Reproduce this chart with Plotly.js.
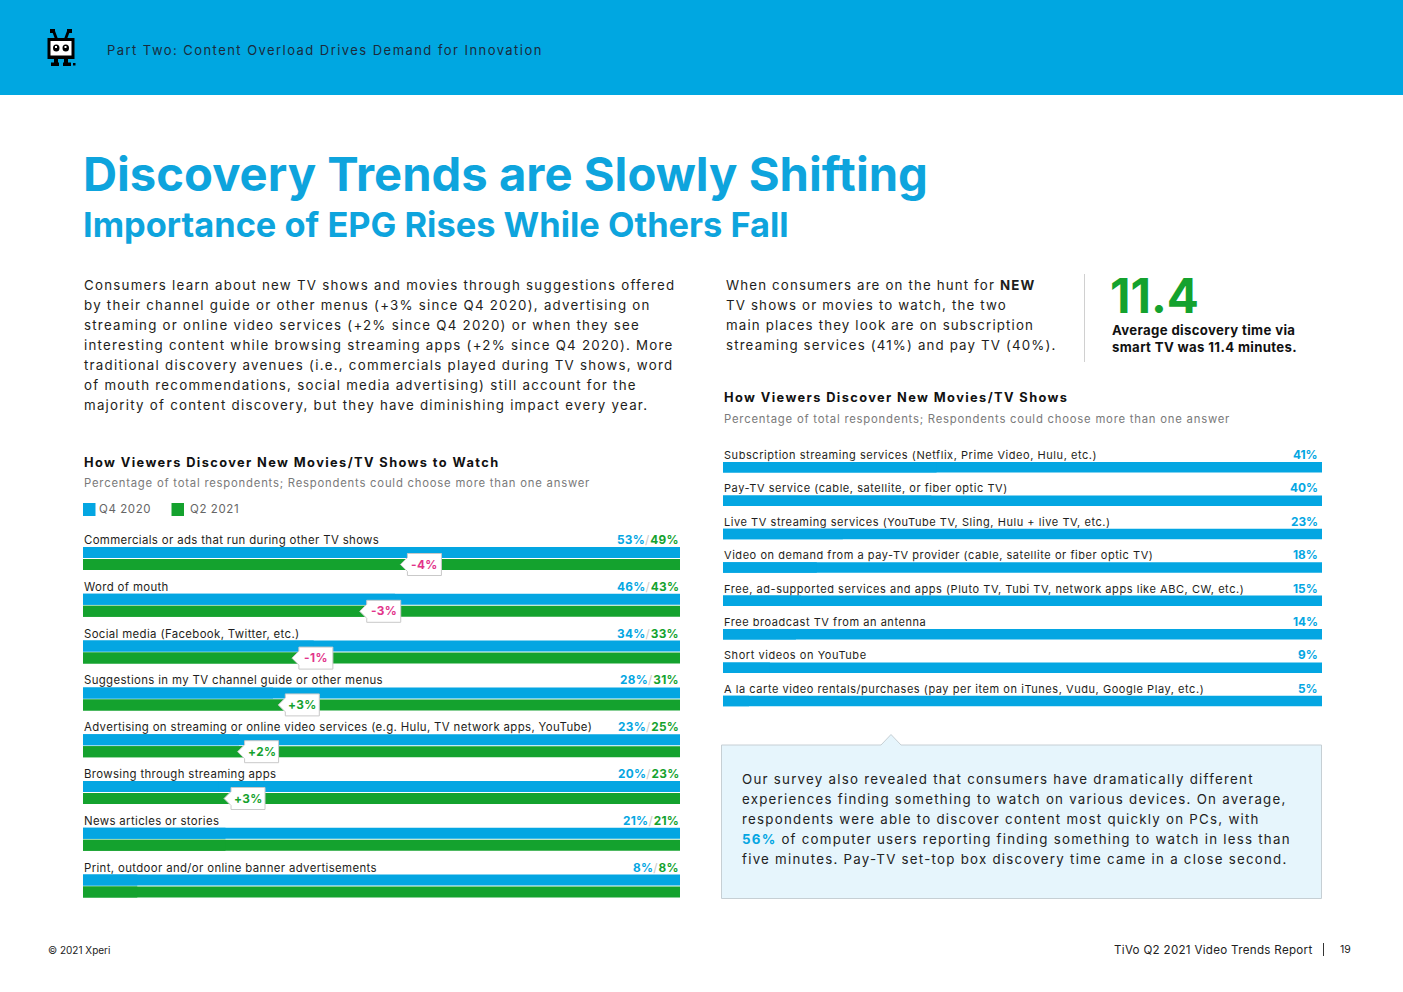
<!DOCTYPE html>
<html><head><meta charset="utf-8">
<script src="https://cdn.plot.ly/plotly-3.0.1.min.js"></script>
<style>html,body{margin:0;padding:0;background:#fff;overflow:hidden}#chart{width:1403px;height:992px}</style>
</head><body><div id="chart"></div>
<script>
// ---------- data ----------
const leftCategories = [
  "Commercials or ads that run during other TV shows",
  "Word of mouth",
  "Social media (Facebook, Twitter, etc.)",
  "Suggestions in my TV channel guide or other menus",
  "Advertising on streaming or online video services (e.g. Hulu, TV network apps, YouTube)",
  "Browsing through streaming apps",
  "News articles or stories",
  "Print, outdoor and/or online banner advertisements"
];
const seriesNames = ["Q4 2020", "Q2 2021"];
const q4_2020 = [53, 46, 34, 28, 23, 20, 21, 8];
const q2_2021 = [49, 43, 33, 31, 25, 23, 21, 8];

const rightCategories = [
  "Subscription streaming services (Netflix, Prime Video, Hulu, etc.)",
  "Pay-TV service (cable, satellite, or fiber optic TV)",
  "Live TV streaming services (YouTube TV, Sling, Hulu + live TV, etc.)",
  "Video on demand from a pay-TV provider (cable, satellite or fiber optic TV)",
  "Free, ad-supported services and apps (Pluto TV, Tubi TV, network apps like ABC, CW, etc.)",
  "Free broadcast TV from an antenna",
  "Short videos on YouTube",
  "A la carte video rentals/purchases (pay per item on iTunes, Vudu, Google Play, etc.)"
];
const rightValues = [41, 40, 23, 18, 15, 14, 9, 5];

// ---------- style ----------
const W = 1403, H = 992;
const FONT = "Inter, 'Open Sans', sans-serif";
const BLUE = "#04a6e2", GREEN = "#14a22e", PINK = "#e2338a";
const HEADER = "#00a7e1", TITLE = "#0ea4dd", DARK = "#1e1e20", GRAY = "#7a7a7a";
const BODY_LS = 1.25;

const px = x => x / W, py = y => 1 - y / H;
function sp(t, ls) { return `<span style="letter-spacing:${ls}px">${t}</span>`; }
function T(x, y, text, o = {}) {
  const font = Object.assign({family: FONT, size: 13, color: DARK}, o.font || {});
  return Object.assign({xref: 'paper', yref: 'paper', x: px(x), y: py(y), text: text,
    showarrow: false, xanchor: 'left', yanchor: 'middle', align: 'left'}, o, {font: font});
}
function rectP(x0, y0, x1, y1, fill, line) {
  return {type: 'rect', xref: 'paper', yref: 'paper', x0: px(x0), x1: px(x1), y0: py(y0), y1: py(y1),
    fillcolor: fill, line: line || {width: 0}, layer: 'below'};
}
function pathP(points, fill, line, layer) {
  const d = points.map((p, i) => (i ? 'L' : 'M') + px(p[0]) + ',' + py(p[1])).join(' ') + ' Z';
  return {type: 'path', xref: 'paper', yref: 'paper', path: d, fillcolor: fill, line: line || {width: 0}, layer: layer || 'below'};
}

// ---------- left chart geometry ----------
const L = {top: 531, pitch: 46.8, x0: 83, x1: 680, max: 88, labelRel: 9, blueRel: 16, greenRel: 28, barH: 11};
const nL = leftCategories.length;
const Lbottom = L.top + L.pitch * nL;
const lBlueOff = (L.blueRel - L.pitch / 2) / L.pitch;
const lGreenOff = (L.greenRel - L.pitch / 2) / L.pitch;
const lW = L.barH / L.pitch;
const lIdx = leftCategories.map((_, i) => i);

// ---------- right chart geometry ----------
const R = {top: 447, pitch: 33.4, x0: 723, x1: 1322, max: 115, labelRel: 8, barRel: 15, barH: 10.5};
const nR = rightCategories.length;
const Rbottom = R.top + R.pitch * nR;
const rOff = (R.barRel - R.pitch / 2) / R.pitch;
const rW = R.barH / R.pitch;
const rIdx = rightCategories.map((_, i) => i);

const barBase = {type: 'bar', orientation: 'h', hoverinfo: 'skip', showlegend: false, marker: {line: {width: 0}}};
const traces = [
  // full-width tracks (left)
  Object.assign({}, barBase, {x: lIdx.map(() => L.max), y: lIdx, offset: lBlueOff, width: lW, marker: {color: BLUE}, xaxis: 'x', yaxis: 'y'}),
  Object.assign({}, barBase, {x: lIdx.map(() => L.max), y: lIdx, offset: lGreenOff, width: lW, marker: {color: GREEN}, xaxis: 'x', yaxis: 'y'}),
  // values (left)
  Object.assign({}, barBase, {name: seriesNames[0], x: q4_2020, y: lIdx, offset: lBlueOff, width: lW, marker: {color: BLUE}, xaxis: 'x', yaxis: 'y'}),
  Object.assign({}, barBase, {name: seriesNames[1], x: q2_2021, y: lIdx, offset: lGreenOff, width: lW, marker: {color: GREEN}, xaxis: 'x', yaxis: 'y'}),
  // right
  Object.assign({}, barBase, {x: rIdx.map(() => R.max), y: rIdx, offset: rOff, width: rW, marker: {color: BLUE}, xaxis: 'x2', yaxis: 'y2'}),
  Object.assign({}, barBase, {x: rightValues, y: rIdx, offset: rOff, width: rW, marker: {color: BLUE}, xaxis: 'x2', yaxis: 'y2'})
];

const shapes = [];
const ann = [];

// header band + logo
shapes.push(rectP(0, 0, W, 95, HEADER));
const K = '#000000', Wt = '#ffffff';
shapes.push(pathP([[52,31],[55,31],[58,39],[55,39]], K));
shapes.push(pathP([[70,31],[67,31],[64,39],[67,39]], K));
shapes.push(rectP(50, 29, 55, 33, K)); shapes.push(rectP(67, 29, 72, 33, K));
shapes.push({type:'rect', xref:'paper', yref:'paper', x0:px(47.5), x1:px(74.5), y0:py(38), y1:py(59), fillcolor:K, line:{width:0}, layer:'below'});
shapes.push(rectP(50.5, 41, 71.5, 55.5, Wt));
shapes.push({type:'circle', xref:'paper', yref:'paper', x0:px(53), x1:px(59.5), y0:py(44.5), y1:py(51.5), fillcolor:K, line:{width:0}, layer:'below'});
shapes.push({type:'circle', xref:'paper', yref:'paper', x0:px(62.5), x1:px(69), y0:py(44.5), y1:py(51.5), fillcolor:K, line:{width:0}, layer:'below'});
shapes.push(rectP(55, 46, 57, 48, Wt)); shapes.push(rectP(64.5, 46, 66.5, 48, Wt));
shapes.push(rectP(54, 59, 58, 64, K)); shapes.push(rectP(64, 59, 68, 64, K));
shapes.push(rectP(51, 62.5, 59, 66, K)); shapes.push(rectP(63, 62.5, 71, 66, K));
shapes.push(rectP(73, 63, 75.5, 65.5, K));
ann.push(T(105, 50, sp("Part Two: Content Overload Drives Demand for Innovation", 1.45), {font: {size: 13, color: '#1b2b3c'}}));

// titles
ann.push(T(81, 173, "<b>Discovery Trends are Slowly Shifting</b>", {font: {size: 47.2, color: TITLE}}));
ann.push(T(81, 224, "<b>Importance of EPG Rises While Others Fall</b>", {font: {size: 34.4, color: TITLE}}));

// left paragraph
const leftPara = [
  "Consumers learn about new TV shows and movies through suggestions offered",
  "by their channel guide or other menus (+3% since Q4 2020), advertising on",
  "streaming or online video services (+2% since Q4 2020) or when they see",
  "interesting content while browsing streaming apps (+2% since Q4 2020). More",
  "traditional discovery avenues (i.e., commercials played during TV shows, word",
  "of mouth recommendations, social media advertising) still account for the",
  "majority of content discovery, but they have diminishing impact every year."
];
leftPara.forEach((t, i) => ann.push(T(82, 285 + 20 * i, sp(t, BODY_LS), {font: {size: 13.3}})));

// right paragraph
const rightPara = [
  sp("When consumers are on the hunt for ", 1.15) + "<b>" + sp("NEW", 1.15) + "</b>",
  sp("TV shows or movies to watch, the two", 1.15),
  sp("main places they look are on subscription", 1.15),
  sp("streaming services (41%) and pay TV (40%).", 1.15)
];
rightPara.forEach((t, i) => ann.push(T(724, 285 + 20 * i, t, {font: {size: 13.3}})));
shapes.push({type: 'line', xref: 'paper', yref: 'paper', x0: px(1084.5), x1: px(1084.5), y0: py(274), y1: py(362), line: {color: '#d0d0d0', width: 1}});
ann.push(T(1108, 295, "<b>11.4</b>", {font: {size: 47.5, color: GREEN}}));
ann.push(T(1110, 330, "<b>" + sp("Average discovery time via", 0.35) + "</b>", {font: {size: 13.2, color: '#111'}}));
ann.push(T(1110, 347, "<b>" + sp("smart TV was 11.4 minutes.", 0.35) + "</b>", {font: {size: 13.2, color: '#111'}}));

// left chart headings + legend
ann.push(T(82, 462, "<b>" + sp("How Viewers Discover New Movies/TV Shows to Watch", 1.4) + "</b>", {font: {size: 12.8, color: '#111'}}));
ann.push(T(82, 483, sp("Percentage of total respondents; Respondents could choose more than one answer", 0.78), {font: {size: 11.3, color: GRAY}}));
shapes.push(rectP(83, 503, 95.5, 516, BLUE));
ann.push(T(97, 509, sp(seriesNames[0], 0.6), {font: {size: 11.5, color: '#666'}}));
shapes.push(rectP(171.5, 503, 184, 516, GREEN));
ann.push(T(188, 509, sp(seriesNames[1], 0.6), {font: {size: 11.5, color: '#666'}}));

// left chart labels
leftCategories.forEach((c, i) => {
  const yl = i - 0.5 + L.labelRel / L.pitch;
  ann.push({xref: 'paper', yref: 'y', x: px(82), y: yl, xanchor: 'left', yanchor: 'middle', showarrow: false,
    text: sp(c, 0.36), font: {family: FONT, size: 11.4, color: DARK}});
  ann.push({xref: 'paper', yref: 'y', x: px(681), y: yl, xanchor: 'right', yanchor: 'middle', showarrow: false,
    text: `<b><span style="color:${BLUE};letter-spacing:0.3px">${q4_2020[i]}%</span></b><span style="color:#c8c8c8;letter-spacing:1px">/</span><b><span style="color:${GREEN};letter-spacing:0.3px">${q2_2021[i]}%</span></b>`,
    font: {family: FONT, size: 11.8, color: DARK}});
  const d = q2_2021[i] - q4_2020[i];
  if (d !== 0) {
    const yc = i + lGreenOff + lW / 2;
    shapes.push({type: 'path', xref: 'x', yref: 'y', xsizemode: 'pixel', ysizemode: 'pixel',
      xanchor: q2_2021[i], yanchor: yc,
      path: 'M-15,0 L-8,-7 L-8,-11 L26,-11 L26,11 L-8,11 L-8,7 Z',
      fillcolor: '#ffffff', line: {color: '#c9c9c9', width: 1}, layer: 'above'});
    ann.push({xref: 'x', yref: 'y', x: q2_2021[i], y: yc, xanchor: 'center', yanchor: 'middle', xshift: 9, showarrow: false,
      text: '<b>' + sp((d > 0 ? '+' : '') + d + '%', 0.4) + '</b>', font: {family: FONT, size: 11.8, color: d < 0 ? PINK : GREEN}});
  }
});

// right chart headings + labels
ann.push(T(722, 398, "<b>" + sp("How Viewers Discover New Movies/TV Shows", 1.4) + "</b>", {font: {size: 12.8, color: '#111'}}));
ann.push(T(722, 419, sp("Percentage of total respondents; Respondents could choose more than one answer", 0.78), {font: {size: 11.3, color: GRAY}}));
rightCategories.forEach((c, i) => {
  const yl = i - 0.5 + R.labelRel / R.pitch;
  ann.push({xref: 'paper', yref: 'y2', x: px(722), y: yl, xanchor: 'left', yanchor: 'middle', showarrow: false,
    text: sp(c, 0.55), font: {family: FONT, size: 11, color: DARK}});
  ann.push({xref: 'paper', yref: 'y2', x: px(1320), y: yl, xanchor: 'right', yanchor: 'middle', showarrow: false,
    text: '<b>' + rightValues[i] + '%</b>', font: {family: FONT, size: 11.8, color: BLUE}});
});

// callout box
shapes.push(pathP([[721.5,745],[881,745],[891,734.5],[901,745],[1321.5,745],[1321.5,898.5],[721.5,898.5]], '#e6f5fc', {color: '#c6cfd4', width: 1}));
const boxLines = [
  sp("Our survey also revealed that consumers have dramatically different", BODY_LS),
  sp("experiences finding something to watch on various devices. On average,", BODY_LS),
  sp("respondents were able to discover content most quickly on PCs, with", BODY_LS),
  `<b><span style="color:${BLUE};letter-spacing:${BODY_LS}px">56%</span></b>` + sp(" of computer users reporting finding something to watch in less than", BODY_LS),
  sp("five minutes. Pay-TV set-top box discovery time came in a close second.", BODY_LS)
];
boxLines.forEach((t, i) => ann.push(T(740, 779 + 20 * i, t, {font: {size: 13.3, color: '#222'}})));

// footer
ann.push(T(46, 950, "© 2021 Xperi", {font: {size: 10, color: '#222'}}));
ann.push(T(1315, 950, sp("TiVo Q2 2021 Video Trends Report", 0.3), {xanchor: 'right', font: {size: 11.6, color: '#222'}}));
shapes.push({type: 'line', xref: 'paper', yref: 'paper', x0: px(1323.5), x1: px(1323.5), y0: py(943), y1: py(956), line: {color: '#333', width: 1}});
ann.push(T(1338, 949, "19", {font: {size: 10.5, color: '#222'}}));

const axisOff = {visible: false, showgrid: false, zeroline: false, fixedrange: true};
const layout = {
  width: W, height: H, margin: {l: 0, r: 0, t: 0, b: 0, pad: 0},
  paper_bgcolor: '#ffffff', plot_bgcolor: 'rgba(0,0,0,0)',
  barmode: 'overlay', showlegend: false,
  xaxis: Object.assign({}, axisOff, {domain: [px(L.x0), px(L.x1)], range: [0, L.max]}),
  yaxis: Object.assign({}, axisOff, {domain: [py(Lbottom), py(L.top)], range: [nL - 0.5, -0.5]}),
  xaxis2: Object.assign({}, axisOff, {domain: [px(R.x0), px(R.x1)], range: [0, R.max], anchor: 'y2'}),
  yaxis2: Object.assign({}, axisOff, {domain: [py(Rbottom), py(R.top)], range: [nR - 0.5, -0.5], anchor: 'x2'}),
  shapes: shapes, annotations: ann,
  font: {family: FONT}
};
Plotly.newPlot('chart', traces, layout, {staticPlot: true, displayModeBar: false});
</script></body></html>
